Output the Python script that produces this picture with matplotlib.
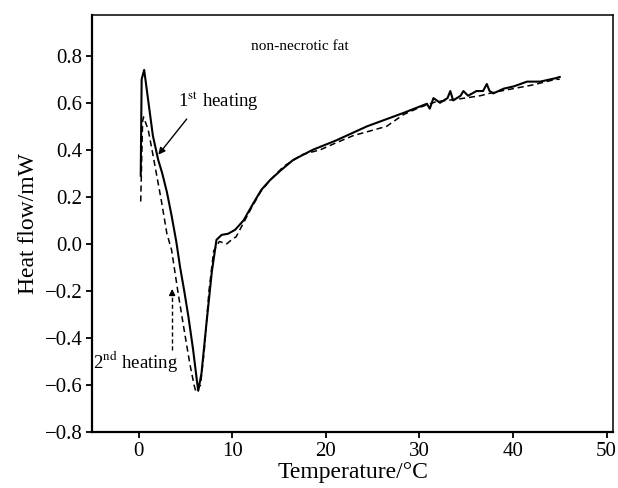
import matplotlib
matplotlib.use("Agg")
import matplotlib.pyplot as plt

plt.rcParams['font.family'] = 'serif'
plt.rcParams['font.serif'] = ['Liberation Serif', 'DejaVu Serif']
plt.rcParams['mathtext.fontset'] = 'stix'

# 1st heating (solid curve)
temp_1st = [0.2, 0.25, 0.3, 0.57, 1.0, 1.5, 2.07, 2.5, 3.0, 3.5, 4.0, 4.4, 4.85, 5.3, 5.8, 6.2,
            6.35, 6.7, 7.2, 7.8, 8.3, 8.85, 9.55, 10.3, 11.2, 12.2, 13.1, 14.0, 15.1, 16.5,
            18.6, 21.1, 24.4, 28.3, 30.8, 31.1, 31.5, 32.2, 33.0, 33.3, 33.6, 34.4, 34.7,
            35.2, 36.1, 36.8, 37.2, 37.5, 37.9, 39.0, 40.1, 41.5, 42.9, 44.6, 45.0]
flow_1st = [0.29, 0.5, 0.70, 0.74, 0.61, 0.46, 0.357, 0.30, 0.22, 0.12, 0.01, -0.097, -0.2,
            -0.31, -0.45, -0.58, -0.625, -0.55, -0.35, -0.12, 0.017, 0.038, 0.043, 0.06,
            0.10, 0.17, 0.23, 0.27, 0.31, 0.357, 0.40, 0.44, 0.50, 0.557, 0.596, 0.575,
            0.62, 0.60, 0.62, 0.65, 0.61, 0.63, 0.65, 0.63, 0.65, 0.65, 0.68, 0.65, 0.64,
            0.66, 0.67, 0.69, 0.69, 0.705, 0.71]

# 2nd heating (dashed curve)
temp_2nd = [0.2, 0.3, 0.4, 0.5, 1.0, 1.36, 1.8, 2.4, 3.0, 3.5, 4.2, 4.9, 5.45, 5.9, 6.1,
            6.6, 7.0, 7.5, 8.0, 8.6, 9.4, 10.0, 10.4, 11.0, 12.0, 13.0, 14.0, 15.5, 17.5,
            19.4, 21.1, 22.9, 24.7, 26.5, 28.3, 30.0, 31.8, 34.0, 36.5, 38.0, 40.0, 42.0,
            44.6, 45.0]
flow_2nd = [0.18, 0.35, 0.52, 0.54, 0.485, 0.41, 0.315, 0.185, 0.043, -0.026, -0.21, -0.38,
            -0.51, -0.6, -0.63, -0.6, -0.45, -0.2, -0.03, 0.01, 0.0, 0.02, 0.03, 0.075, 0.15,
            0.22, 0.27, 0.33, 0.38, 0.40, 0.43, 0.46, 0.48, 0.50, 0.55, 0.58, 0.605, 0.615,
            0.63, 0.645, 0.66, 0.675, 0.70, 0.70]

fig = plt.figure(figsize=(6.18, 4.88), dpi=100)
ax = fig.add_axes([0.149, 0.115, 0.843, 0.855])

ax.plot(temp_1st, flow_1st, color='k', lw=1.5)
ax.plot(temp_2nd, flow_2nd, color='k', lw=1.1, ls=(0, (4, 2.5)))

ax.set_xlim(-5.0, 50.7)
ax.set_ylim(-0.8, 0.975)
ax.set_xticks([0, 10, 20, 30, 40, 50])
ax.set_yticks([-0.8, -0.6, -0.4, -0.2, 0.0, 0.2, 0.4, 0.6, 0.8])
ax.set_yticklabels(['\u22120.8', '\u22120.6', '\u22120.4', '\u22120.2', '0.0',
                    '0.2', '0.4', '0.6', '0.8'])
ax.tick_params(direction='out', length=4, width=1.3, labelsize=15, pad=3)
for s in ['left', 'bottom']:
    ax.spines[s].set_linewidth(1.6)
for s in ['top', 'right']:
    ax.spines[s].set_linewidth(1.1)

ax.set_xlabel('Temperature/\u00b0C', fontsize=17, labelpad=1)
ax.set_ylabel('Heat flow/mW', fontsize=17, labelpad=4)

# annotations
ax.text(12.0, 0.825, 'non-necrotic fat', fontsize=11)
ax.text(4.2, 0.58, r'1$^{\mathrm{st}}$ heating', fontsize=13.5)
ax.annotate('', xy=(1.9, 0.37), xytext=(5.3, 0.54),
            arrowprops=dict(arrowstyle='-|>', color='k', lw=1, mutation_scale=10))
ax.text(-4.9, -0.53, r'2$^{\mathrm{nd}}$ heating', fontsize=13.5)
ax.plot([3.56, 3.56], [-0.45, -0.21], color='k', lw=1, ls=(0, (3, 2)))
ax.annotate('', xy=(3.56, -0.18), xytext=(3.56, -0.22),
            arrowprops=dict(arrowstyle='-|>', color='k', lw=1, mutation_scale=9))

fig.savefig('out.png', dpi=100)
